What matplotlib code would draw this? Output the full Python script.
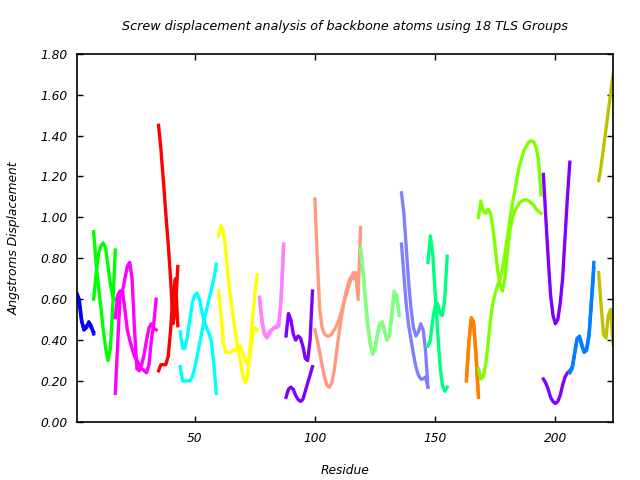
import matplotlib

matplotlib.use("Agg")
import matplotlib.pyplot as plt


# first residue of each TLS group, and the two screw displacement curves per group
group_starts = [1, 8, 17, 35, 44, 60, 77, 88, 100, 119, 136, 147, 163, 168, 195, 206, 218]

curve_a = [
    [0.63, 0.60, 0.50, 0.45, 0.46, 0.49, 0.47, 0.43],
    [0.93, 0.78, 0.66, 0.56, 0.45, 0.36, 0.30, 0.36, 0.58, 0.84],
    [0.14, 0.38, 0.62, 0.64, 0.70, 0.76, 0.78, 0.70, 0.45, 0.26, 0.25, 0.28, 0.33, 0.40, 0.46, 0.48, 0.46, 0.45],
    [1.45, 1.33, 1.18, 1.02, 0.87, 0.70, 0.48, 0.55, 0.76],
    [0.44, 0.36, 0.36, 0.42, 0.50, 0.58, 0.62, 0.63, 0.60, 0.54, 0.49, 0.46, 0.43, 0.39, 0.28, 0.14],
    [0.91, 0.96, 0.93, 0.83, 0.70, 0.60, 0.52, 0.43, 0.36, 0.30, 0.23, 0.19, 0.22, 0.35, 0.50, 0.62, 0.72],
    [0.61, 0.50, 0.43, 0.41, 0.43, 0.45, 0.46, 0.46, 0.47, 0.62, 0.87],
    [0.42, 0.53, 0.50, 0.43, 0.40, 0.42, 0.41, 0.37, 0.31, 0.30, 0.40, 0.64],
    [1.09, 0.80, 0.55, 0.46, 0.43, 0.42, 0.42, 0.43, 0.45, 0.47, 0.50, 0.54, 0.58, 0.62, 0.66, 0.70, 0.73, 0.72, 0.62, 0.95],
    [0.85, 0.74, 0.60, 0.47, 0.38, 0.33, 0.35, 0.43, 0.48, 0.49, 0.45, 0.40, 0.42, 0.52, 0.63, 0.62, 0.53],
    [1.12, 1.02, 0.85, 0.68, 0.55, 0.46, 0.42, 0.44, 0.48, 0.45, 0.35, 0.17],
    [0.78, 0.91, 0.82, 0.63, 0.45, 0.28, 0.18, 0.15, 0.17],
    [0.20, 0.39, 0.50, 0.48, 0.32, 0.12],
    [0.26, 0.21, 0.22, 0.28, 0.38, 0.50, 0.58, 0.63, 0.67, 0.70, 0.75, 0.82, 0.90, 0.98, 1.06, 1.12, 1.19,
     1.25, 1.29, 1.33, 1.35, 1.37, 1.375, 1.37, 1.34, 1.28, 1.11],
    [1.21, 1.00, 0.80, 0.62, 0.52, 0.48, 0.50, 0.58, 0.70, 0.90, 1.10, 1.27],
    [0.24, 0.26, 0.33, 0.40, 0.42, 0.38, 0.34, 0.35, 0.42, 0.60, 0.78],
    [1.18, 1.25, 1.34, 1.43, 1.52, 1.61, 1.70],
]

curve_b = [
    [0.62, 0.58, 0.49, 0.45, 0.47, 0.48, 0.46, 0.44],
    [0.60, 0.72, 0.82, 0.86, 0.875, 0.85, 0.76, 0.67, 0.61, 0.60],
    [0.51, 0.62, 0.64, 0.64, 0.55, 0.45, 0.40, 0.36, 0.32, 0.30, 0.28, 0.26, 0.25, 0.24, 0.28, 0.40, 0.48, 0.60],
    [0.25, 0.28, 0.28, 0.28, 0.32, 0.45, 0.62, 0.70, 0.47],
    [0.27, 0.20, 0.20, 0.20, 0.20, 0.22, 0.26, 0.32, 0.38, 0.44, 0.50, 0.55, 0.60, 0.65, 0.70, 0.77],
    [0.64, 0.52, 0.38, 0.34, 0.34, 0.34, 0.35, 0.35, 0.37, 0.37, 0.34, 0.30, 0.28, 0.32, 0.42, 0.46, 0.45],
    [0.60, 0.49, 0.43, 0.42, 0.44, 0.45, 0.46, 0.47, 0.48, 0.60, 0.86],
    [0.12, 0.16, 0.17, 0.16, 0.13, 0.11, 0.10, 0.11, 0.15, 0.19, 0.23, 0.27],
    [0.45, 0.40, 0.34, 0.28, 0.22, 0.18, 0.17, 0.19, 0.25, 0.34, 0.43, 0.51, 0.58, 0.64, 0.68, 0.71, 0.70, 0.73, 0.60],
    [0.84, 0.73, 0.59, 0.47, 0.38, 0.34, 0.36, 0.43, 0.48, 0.48, 0.44, 0.40, 0.43, 0.53, 0.64, 0.60, 0.52],
    [0.87, 0.72, 0.57, 0.47, 0.40, 0.33, 0.27, 0.23, 0.21, 0.21, 0.22, 0.17],
    [0.37, 0.40, 0.50, 0.57, 0.58, 0.53, 0.52, 0.60, 0.81],
    [0.21, 0.38, 0.51, 0.49, 0.33, 0.13],
    [1.00, 1.08, 1.03, 1.02, 1.04, 1.02, 0.95, 0.85, 0.74, 0.67, 0.64, 0.70, 0.82, 0.93, 0.99, 1.03, 1.05,
     1.07, 1.08, 1.085, 1.085, 1.08, 1.07, 1.06, 1.04, 1.03, 1.02],
    [0.21, 0.19, 0.16, 0.12, 0.10, 0.09, 0.10, 0.13, 0.18, 0.22, 0.24, 0.25],
    [0.25, 0.27, 0.34, 0.41, 0.41, 0.37, 0.34, 0.36, 0.43, 0.58, 0.75],
    [0.73, 0.57, 0.43, 0.41, 0.52, 0.55, 0.38],
]

colors = ["#0000ff", "#00ff00", "#ff00ff", "#ff0000", "#00ffff", "#ffff00", "#ff80ff", "#8000ff",
          "#ff9980", "#80ff80", "#8080ff", "#00ff80", "#ff8000", "#80ff00", "#8000ff", "#0080ff", "#c0c000"]

y_ticks = [0.0, 0.2, 0.4, 0.6, 0.8, 1.0, 1.2, 1.4, 1.6, 1.8]
x_ticks = [50, 100, 150, 200]

plt.rcParams["font.family"] = ["DejaVu Sans"]

fig = plt.figure(figsize=(6.4, 4.8), dpi=100)
ax = fig.add_axes([0.120, 0.121, 0.838, 0.767])

for start, a, b, color in zip(group_starts, curve_a, curve_b, colors):
    ax.plot([start + i for i in range(len(a))], a, color=color, linewidth=2.4)
    ax.plot([start + i for i in range(len(b))], b, color=color, linewidth=2.4)

ax.set_xlim(1, 224)
ax.set_ylim(0, 1.8)
ax.set_xticks(x_ticks, [str(v) for v in x_ticks], fontstyle="oblique")
ax.set_yticks(y_ticks, [f"{v:.2f}" for v in y_ticks], fontstyle="oblique")
ax.tick_params(direction="in", top=True, right=True, length=4.5, width=1, labelsize=8.8, pad=7)
for spine in ax.spines.values():
    spine.set_linewidth(1.2)

ax.set_title("Screw displacement analysis of backbone atoms using 18 TLS Groups",
             fontsize=9.2, fontstyle="oblique", pad=17)
ax.set_xlabel("Residue", fontsize=8.8, fontstyle="oblique", labelpad=14)
ax.set_ylabel("Angstroms Displacement", fontsize=8.8, fontstyle="oblique", labelpad=14)

fig.savefig("out.png", dpi=100)
